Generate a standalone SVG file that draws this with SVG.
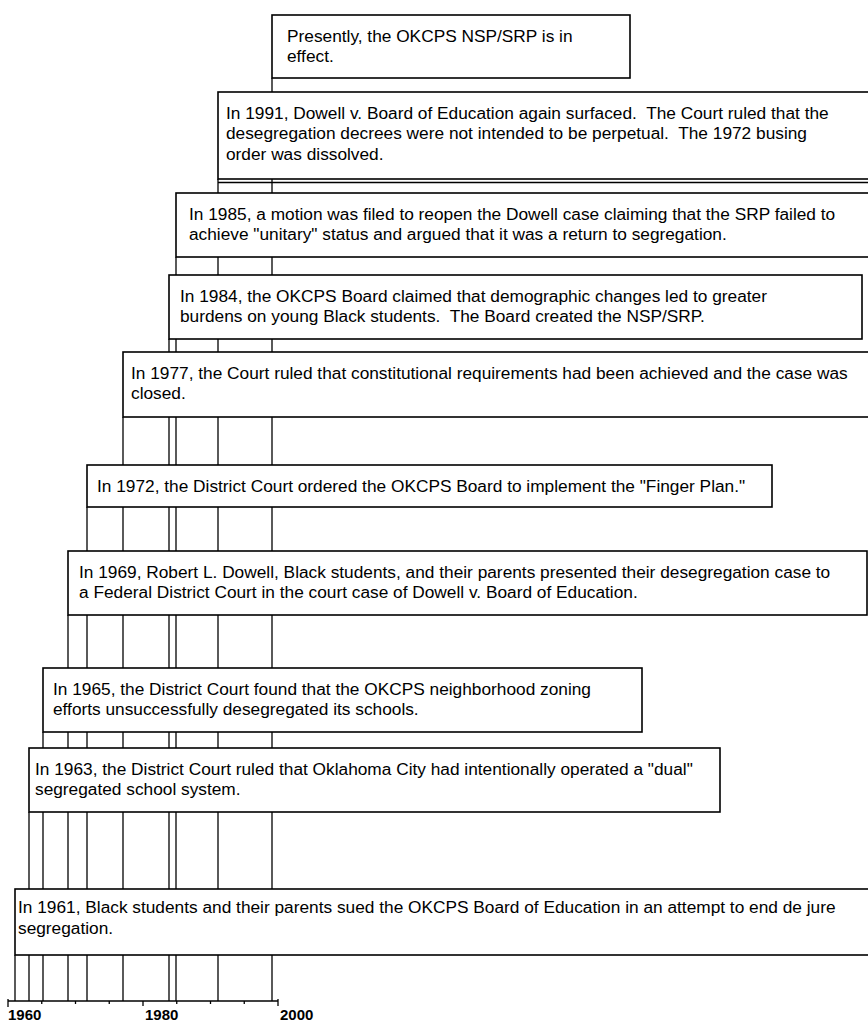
<svg xmlns="http://www.w3.org/2000/svg" width="868" height="1021" viewBox="0 0 868 1021">
<style>
.box{fill:#fff;stroke:#000;stroke-width:1.6}
.ln{stroke:#000;stroke-width:1.3;fill:none}
.t{font-family:"Liberation Sans",Arial,sans-serif;font-size:17.3px;fill:#000;white-space:pre}
.yr{font-family:"Liberation Sans",Arial,sans-serif;font-size:15px;font-weight:bold;fill:#000}
</style>
<rect width="868" height="1021" fill="#fff"/>
<g id="connectors">
<line class="ln" x1="272" y1="78" x2="272" y2="1001"/>
<line class="ln" x1="218" y1="179" x2="218" y2="1001"/>
<line class="ln" x1="218" y1="182.5" x2="868" y2="182.5"/>
<line class="ln" x1="176" y1="257" x2="176" y2="1001"/>
<line class="ln" x1="169" y1="339" x2="169" y2="1001"/>
<line class="ln" x1="123" y1="417" x2="123" y2="1001"/>
<line class="ln" x1="87" y1="507" x2="87" y2="1001"/>
<line class="ln" x1="68" y1="615" x2="68" y2="1001"/>
<line class="ln" x1="43" y1="732" x2="43" y2="1001"/>
<line class="ln" x1="29" y1="812" x2="29" y2="1001"/>
<line class="ln" x1="15" y1="955" x2="15" y2="1001"/>
</g>
<g id="axis">
<line class="ln" x1="8" y1="1001" x2="278" y2="1001"/>
<line class="ln" x1="8" y1="999" x2="8" y2="1007"/>
<line class="ln" x1="41.75" y1="1001" x2="41.75" y2="1004"/>
<line class="ln" x1="75.5" y1="1001" x2="75.5" y2="1004"/>
<line class="ln" x1="109.25" y1="1001" x2="109.25" y2="1004"/>
<line class="ln" x1="143" y1="1001" x2="143" y2="1006"/>
<line class="ln" x1="176.75" y1="1001" x2="176.75" y2="1004"/>
<line class="ln" x1="210.5" y1="1001" x2="210.5" y2="1004"/>
<line class="ln" x1="244.25" y1="1001" x2="244.25" y2="1004"/>
<line class="ln" x1="278" y1="999" x2="278" y2="1006"/>
<text class="yr" x="8" y="1020">1960</text>
<text class="yr" x="145" y="1020">1980</text>
<text class="yr" x="280" y="1020">2000</text>
</g>
<g id="n-present">
<rect class="box" x="272" y="15" width="358" height="63"/>
<text class="t" x="287" y="41.5">Presently, the OKCPS NSP/SRP is in</text>
<text class="t" x="287" y="62">effect.</text>
</g>
<g id="n-1991">
<rect class="box" x="218" y="92" width="660" height="87"/>
<text class="t" x="226" y="118.5">In 1991, Dowell v. Board of Education again surfaced.  The Court ruled that the</text>
<text class="t" x="226" y="139">desegregation decrees were not intended to be perpetual.  The 1972 busing</text>
<text class="t" x="226" y="159.5">order was dissolved.</text>
</g>
<g id="n-1985">
<rect class="box" x="176" y="193" width="702" height="64"/>
<text class="t" x="189" y="219.5">In 1985, a motion was filed to reopen the Dowell case claiming that the SRP failed to</text>
<text class="t" x="189" y="240">achieve "unitary" status and argued that it was a return to segregation.</text>
</g>
<g id="n-1984">
<rect class="box" x="169" y="275" width="693" height="64"/>
<text class="t" x="180" y="301.5">In 1984, the OKCPS Board claimed that demographic changes led to greater</text>
<text class="t" x="180" y="322">burdens on young Black students.  The Board created the NSP/SRP.</text>
</g>
<g id="n-1977">
<rect class="box" x="123" y="352" width="755" height="65"/>
<text class="t" x="131" y="378.5">In 1977, the Court ruled that constitutional requirements had been achieved and the case was</text>
<text class="t" x="131" y="399">closed.</text>
</g>
<g id="n-1972">
<rect class="box" x="87" y="465" width="685" height="42"/>
<text class="t" x="97" y="491.5">In 1972, the District Court ordered the OKCPS Board to implement the "Finger Plan."</text>
</g>
<g id="n-1969">
<rect class="box" x="68" y="551" width="799" height="64"/>
<text class="t" x="79" y="577.5">In 1969, Robert L. Dowell, Black students, and their parents presented their desegregation case to</text>
<text class="t" x="79" y="598">a Federal District Court in the court case of Dowell v. Board of Education.</text>
</g>
<g id="n-1965">
<rect class="box" x="43" y="668" width="599" height="64"/>
<text class="t" x="53" y="694.5">In 1965, the District Court found that the OKCPS neighborhood zoning</text>
<text class="t" x="53" y="715">efforts unsuccessfully desegregated its schools.</text>
</g>
<g id="n-1963">
<rect class="box" x="29" y="748" width="691" height="64"/>
<text class="t" x="35" y="774.5">In 1963, the District Court ruled that Oklahoma City had intentionally operated a "dual"</text>
<text class="t" x="35" y="795">segregated school system.</text>
</g>
<g id="n-1961">
<rect class="box" x="15" y="889" width="863" height="66"/>
<text class="t" x="18" y="913">In 1961, Black students and their parents sued the OKCPS Board of Education in an attempt to end de jure</text>
<text class="t" x="18" y="933.5">segregation.</text>
</g>
</svg>
